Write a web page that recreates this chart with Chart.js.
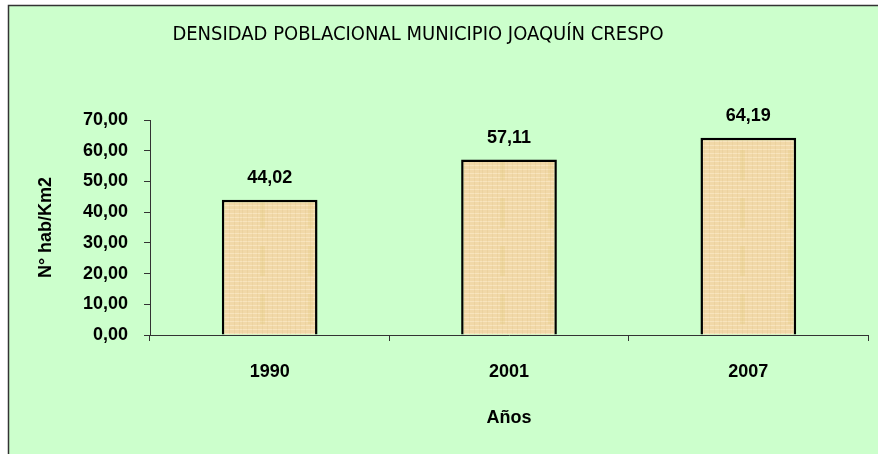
<!DOCTYPE html>
<html>
<head>
<meta charset="utf-8">
<style>
  html, body { margin: 0; padding: 0; background: #fff; }
  #wrap { width: 878px; height: 454px; }
</style>
<script src="https://cdn.jsdelivr.net/npm/chart.js@4.4.0/dist/chart.umd.min.js"></script>
</head>
<body>
<div id="wrap"><canvas id="densidadChart" width="878" height="454"></canvas></div>
<script>
const years = ['1990', '2001', '2007'];
const densidad = [44.02, 57.11, 64.19];
const yTicks = [0, 10, 20, 30, 40, 50, 60, 70];

const chartTitle = 'DENSIDAD POBLACIONAL MUNICIPIO JOAQUÍN CRESPO';
const yTitle = 'N° hab/Km2';
const xTitle = 'Años';

const boldFont = { family: "'Liberation Sans', Arial, sans-serif", size: 18, weight: 'bold' };

function coma(v) {
    return v.toFixed(2).replace('.', ',');
}

// textura tipo papiro para las barras
function papyrus() {
    const c = document.createElement('canvas');
    c.width = 48;
    c.height = 48;
    const g = c.getContext('2d');
    g.fillStyle = '#f1d8a8';
    g.fillRect(0, 0, 48, 48);
    g.fillStyle = 'rgba(255, 240, 210, 0.5)';
    for (let y = 1; y < 48; y += 4) g.fillRect(0, y, 48, 1);
    g.fillStyle = 'rgba(214, 184, 120, 0.18)';
    for (let x = 2; x < 48; x += 5) g.fillRect(x, 0, 1, 48);
    g.fillStyle = 'rgba(225, 200, 110, 0.2)';
    g.fillRect(20, 6, 5, 30);
    return g.createPattern(c, 'repeat');
}

const fondo = {
    id: 'fondo',
    beforeDraw(chart) {
        const ctx = chart.ctx;
        ctx.save();
        ctx.fillStyle = '#ffffff';
        ctx.fillRect(0, 0, chart.width, chart.height);
        ctx.fillStyle = '#ccffcc';
        ctx.fillRect(8, 5, chart.width, chart.height);
        ctx.strokeStyle = '#333333';
        ctx.lineWidth = 1.5;
        ctx.strokeRect(8.5, 5.5, chart.width + 10, chart.height + 10);
        ctx.font = "20px 'Liberation Sans Narrow', 'DejaVu Sans Condensed', sans-serif";
        ctx.fillStyle = '#000000';
        ctx.textAlign = 'center';
        ctx.textBaseline = 'alphabetic';
        ctx.fillText(chartTitle, 418, 40);
        ctx.restore();
    }
};

const etiquetas = {
    id: 'etiquetas',
    afterDatasetsDraw(chart) {
        const ctx = chart.ctx;
        const meta = chart.getDatasetMeta(0);
        ctx.save();
        ctx.font = "bold 18px 'Liberation Sans', Arial, sans-serif";
        ctx.fillStyle = '#000000';
        ctx.textAlign = 'center';
        ctx.textBaseline = 'middle';
        meta.data.forEach((bar, i) => {
            ctx.fillText(coma(densidad[i]), bar.x, bar.y - 22);
        });
        ctx.restore();
    }
};

const ctx = document.getElementById('densidadChart');

new Chart(ctx, {
    type: 'bar',
    data: {
        labels: years,
        datasets: [{
            data: densidad,
            backgroundColor: papyrus(),
            borderColor: '#000000',
            borderWidth: 2.5,
            categoryPercentage: 1,
            barPercentage: 0.4
        }]
    },
    options: {
        responsive: false,
        animation: false,
        layout: { padding: { top: 120, right: 10, left: 0, bottom: 0 } },
        plugins: {
            legend: { display: false },
            tooltip: { enabled: false }
        },
        scales: {
            x: {
                afterFit(scale) { scale.height = 119; },
                grid: {
                    drawOnChartArea: false,
                    drawTicks: true,
                    tickLength: 6,
                    color: '#333333',
                    offset: true
                },
                border: { color: '#333333', width: 1 },
                ticks: { color: '#000000', font: boldFont, padding: 20 },
                title: {
                    display: true,
                    text: xTitle,
                    color: '#000000',
                    font: boldFont,
                    padding: { top: 0, bottom: 25 }
                }
            },
            y: {
                min: 0,
                max: 70,
                afterFit(scale) { scale.width = 150; },
                afterBuildTicks(scale) {
                    scale.ticks = yTicks.map(v => ({ value: v }));
                },
                grid: {
                    drawOnChartArea: false,
                    drawTicks: true,
                    tickLength: 6,
                    color: '#333333'
                },
                border: { color: '#333333', width: 1 },
                ticks: {
                    color: '#000000',
                    font: boldFont,
                    padding: 16,
                    callback: v => coma(v)
                },
                title: {
                    display: true,
                    text: yTitle,
                    color: '#000000',
                    font: boldFont,
                    padding: { top: 35, bottom: 0 }
                }
            }
        }
    },
    plugins: [fondo, etiquetas]
});
</script>
</body>
</html>
